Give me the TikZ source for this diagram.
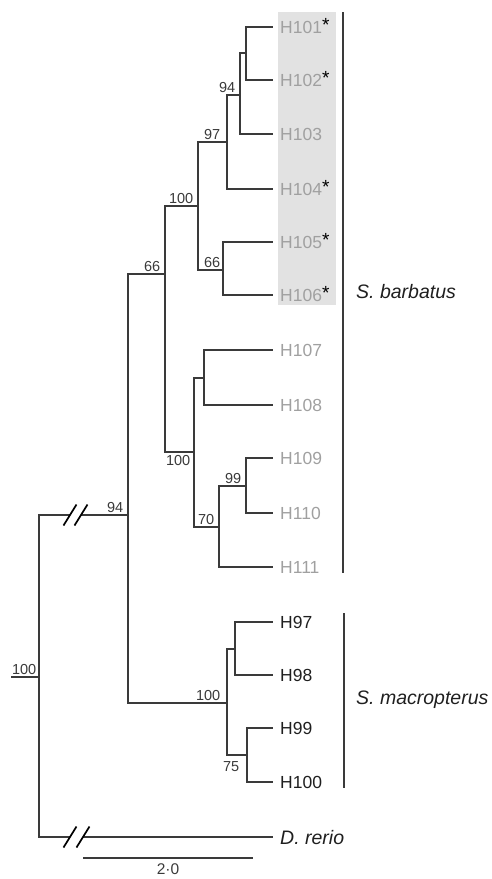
\documentclass[tikz,border=0pt]{standalone}
\usepackage{fontspec}
\setmainfont{Liberation Sans}
\usepackage{tikz}
\usetikzlibrary{positioning}
\definecolor{branchgrey}{HTML}{3A3A3A}
\definecolor{tipgrey}{HTML}{A0A0A0}
\definecolor{boxgrey}{HTML}{E2E2E2}
\newcommand{\tipstar}{\textcolor{black}{\raisebox{1.5pt}{\fontsize{19}{19}\selectfont *}}}

\begin{document}
\begin{tikzpicture}[
    x=1pt, y=-1pt,
    branch/.style={draw=branchgrey, line width=1.3pt},
    brk/.style={draw=black, line width=1.7pt},
    tip/.style={anchor=west, inner xsep=7pt, inner ysep=0pt, text height=12.5pt, text depth=0pt,
                font=\fontsize{17.5}{18}\selectfont},
    grtip/.style={tip, text=tipgrey},
    bktip/.style={tip, text=black!88},
    boot/.style={font=\fontsize{14.5}{15}\selectfont, text=branchgrey, inner sep=2.5pt},
    clade/.style={anchor=west, inner sep=0pt, text=black!88, font=\fontsize{19.5}{20}\selectfont\itshape},
  ]

  \useasboundingbox (0,0) rectangle (492,879);

  % ── Shading behind the starred haplotypes ────────────────────────────────
  \fill[boxgrey] (278,12) rectangle (336,305);

  % ── Tips ─────────────────────────────────────────────────────────────────

  % S. barbatus
  \node[grtip] (H101) at (273, 27)  {H101\tipstar};
  \node[grtip] (H102) at (273, 80)  {H102\tipstar};
  \node[grtip] (H103) at (273,134)  {H103};
  \node[grtip] (H104) at (273,189)  {H104\tipstar};
  \node[grtip] (H105) at (273,242)  {H105\tipstar};
  \node[grtip] (H106) at (273,295)  {H106\tipstar};
  \node[grtip] (H107) at (273,350)  {H107};
  \node[grtip] (H108) at (273,405)  {H108};
  \node[grtip] (H109) at (273,458)  {H109};
  \node[grtip] (H110) at (273,513)  {H110};
  \node[grtip] (H111) at (273,567)  {H111};

  % S. macropterus
  \node[bktip] (H97)  at (273,622)  {H97};
  \node[bktip] (H98)  at (273,675)  {H98};
  \node[bktip] (H99)  at (273,728)  {H99};
  \node[bktip] (H100) at (273,782)  {H100};

  % outgroup
  \node[tip, text=black!88, text height=14pt, font=\fontsize{19.5}{20}\selectfont\itshape]
       (Drerio) at (273,837) {D. rerio};

  % ── Internal nodes ───────────────────────────────────────────────────────
  \coordinate (rootstub) at ( 11,677);
  \coordinate (root)     at ( 39,677);
  \coordinate (nIn)      at (128,515);
  \coordinate (nBarb)    at (165,274);
  \coordinate (nTop)     at (198,206);
  \coordinate (nB)       at (227,142);
  \coordinate (nC)       at (240, 95);
  \coordinate (nD)       at (246, 53);
  \coordinate (nE)       at (223,270);
  \coordinate (nLow)     at (194,452);
  \coordinate (nG)       at (204,378);
  \coordinate (nH)       at (219,527);
  \coordinate (nJ)       at (246,486);
  \coordinate (nMac)     at (227,703);
  \coordinate (nK)       at (235,649);
  \coordinate (nL)       at (247,755);

  % cut points on the two long branches
  \coordinate (cutInA)   at ( 70,515);
  \coordinate (cutInB)   at ( 81,515);
  \coordinate (cutOutA)  at ( 70,837);
  \coordinate (cutOutB)  at ( 83,837);

  % ── Branches ─────────────────────────────────────────────────────────────

  % root, with the broken branches
  \draw[branch] (rootstub) -- (root);
  \draw[branch] (root) |- (cutInA);
  \draw[branch] (cutInB) -- (nIn);
  \draw[branch] (root) |- (cutOutA);
  \draw[branch] (cutOutB) -- (Drerio.west);

  \foreach \c in {cutInA, cutInB, cutOutA, cutOutB}
    \draw[brk] ([shift={(-6.5,10.5)}]\c) -- ([shift={(6.5,-10.5)}]\c);

  % ingroup → S. barbatus, S. macropterus
  \draw[branch] (nIn) |- (nBarb);
  \draw[branch] (nIn) |- (nMac);

  % S. barbatus
  \draw[branch] (nBarb) |- (nTop);
  \draw[branch] (nBarb) |- (nLow);
  \draw[branch] (nTop)  |- (nB);
  \draw[branch] (nTop)  |- (nE);
  \draw[branch] (nB)    |- (nC);
  \draw[branch] (nB)    |- (H104.west);
  \draw[branch] (nC)    |- (nD);
  \draw[branch] (nC)    |- (H103.west);
  \draw[branch] (nD)    |- (H101.west);
  \draw[branch] (nD)    |- (H102.west);
  \draw[branch] (nE)    |- (H105.west);
  \draw[branch] (nE)    |- (H106.west);
  \draw[branch] (nLow)  |- (nG);
  \draw[branch] (nLow)  |- (nH);
  \draw[branch] (nG)    |- (H107.west);
  \draw[branch] (nG)    |- (H108.west);
  \draw[branch] (nH)    |- (nJ);
  \draw[branch] (nH)    |- (H111.west);
  \draw[branch] (nJ)    |- (H109.west);
  \draw[branch] (nJ)    |- (H110.west);

  % S. macropterus
  \draw[branch] (nMac) |- (nK);
  \draw[branch] (nMac) |- (nL);
  \draw[branch] (nK)   |- (H97.west);
  \draw[branch] (nK)   |- (H98.west);
  \draw[branch] (nL)   |- (H99.west);
  \draw[branch] (nL)   |- (H100.west);

  % ── Bootstrap values ─────────────────────────────────────────────────────
  \node[boot, anchor=south east]               (bsRoot) at (root)  {100};
  \node[boot, anchor=south east, xshift=-2pt]  (bsIn)   at (nIn)   {94};
  \node[boot, anchor=south east, xshift=-2pt]  (bsBarb) at (nBarb) {66};
  \node[boot, anchor=south east, xshift=-2pt]  (bsTop)  at (nTop)  {100};
  \node[boot, anchor=south east, xshift=-4pt]  (bsB)    at (nB)    {97};
  \node[boot, anchor=south east, xshift=-2pt]  (bsC)    at (nC)    {94};
  \node[boot, anchor=south east]               (bsE)    at (nE)    {66};
  \node[boot, anchor=north east, xshift=-1pt, yshift=-1pt] (bsLow) at (nLow) {100};
  \node[boot, anchor=south east, xshift=-2pt]  (bsJ)    at (nJ)    {99};
  \node[boot, anchor=south east, xshift=-2pt]  (bsH)    at (nH)    {70};
  \node[boot, anchor=south east, xshift=-4pt]  (bsMac)  at (nMac)  {100};
  \node[boot, anchor=north east, xshift=-5pt, yshift=-4pt] (bsL) at (nL) {75};

  % ── Species bars ─────────────────────────────────────────────────────────
  \coordinate (barbTop) at (343, 12);
  \coordinate (barbBot) at (343,573);
  \coordinate (macTop)  at (344,613);
  \coordinate (macBot)  at (344,788);
  \draw[branch] (barbTop) -- (barbBot);
  \draw[branch] (macTop)  -- (macBot);
  \node[clade] (barbatus) at (356,292) {S. barbatus};
  \node[clade] (macropt)  at (356,700) {S. macropterus};

  % ── Scale bar ────────────────────────────────────────────────────────────
  \coordinate (sbL) at ( 83,858);
  \coordinate (sbR) at (253,858);
  \draw[branch] (sbL) -- (sbR);
  \node[font=\fontsize{15.5}{16}\selectfont, text=branchgrey, inner sep=1pt] (sbLabel) at (168,869) {2·0};

\end{tikzpicture}
\end{document}
